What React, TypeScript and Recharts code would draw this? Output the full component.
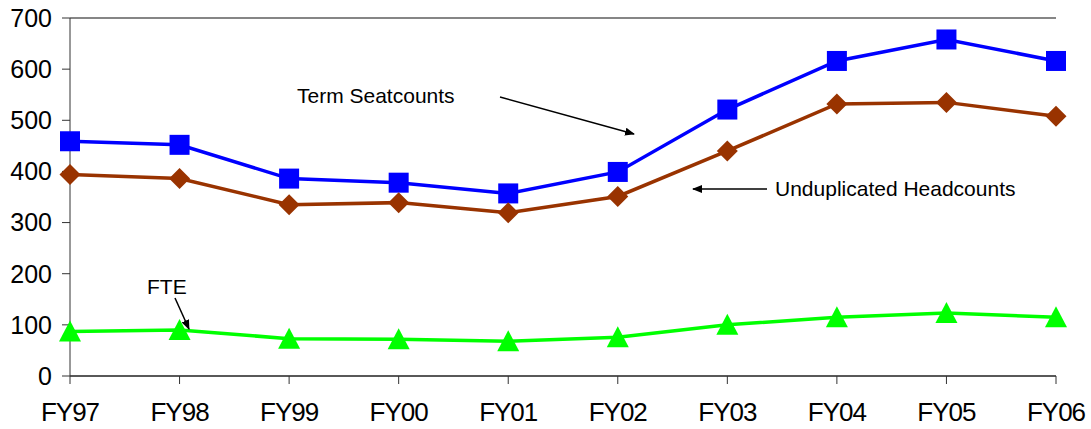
import { LineChart, Line, XAxis, YAxis, CartesianGrid, ReferenceLine } from "recharts"

// fiscal years on the x axis
const years = ["FY97", "FY98", "FY99", "FY00", "FY01", "FY02", "FY03", "FY04", "FY05", "FY06"]

// series
const seatcounts = [459, 452, 386, 378, 357, 399, 521, 616, 658, 616]
const headcounts = [394, 386, 335, 339, 319, 351, 440, 532, 535, 508]
const fte = [87, 90, 73, 72, 68, 76, 100, 115, 123, 115]

const yTicks = [0, 100, 200, 300, 400, 500, 600, 700]

const data = years.map((year, i) => ({
  year,
  seat: seatcounts[i],
  head: headcounts[i],
  fte: fte[i],
}))

const FONT = "'Liberation Sans', Arial, sans-serif"

// marker shapes
const SquareDot = (props: any) => {
  const { cx, cy, index } = props
  return <rect key={`sq-${index}`} x={cx - 10} y={cy - 10} width={20} height={20} fill="#0000ff" />
}

const DiamondDot = (props: any) => {
  const { cx, cy, index } = props
  const r = 10.5
  return (
    <polygon
      key={`di-${index}`}
      points={`${cx},${cy - r} ${cx + r},${cy} ${cx},${cy + r} ${cx - r},${cy}`}
      fill="#993300"
    />
  )
}

const TriangleDot = (props: any) => {
  const { cx, cy, index } = props
  return (
    <polygon
      key={`tr-${index}`}
      points={`${cx},${cy - 11} ${cx + 11},${cy + 10} ${cx - 11},${cy + 10}`}
      fill="#00ff00"
    />
  )
}

export default function App() {
  return (
    <div style={{ position: "absolute", left: 0, top: 0, width: 1091, height: 429, background: "#fff" }}>
      <LineChart width={1091} height={429} data={data} margin={{ top: 18, right: 35, left: 0, bottom: 0 }}>
        <CartesianGrid vertical={false} stroke="#000" strokeWidth={1} />
        <XAxis
          dataKey="year"
          height={53}
          tickSize={8}
          tickMargin={19}
          stroke="#333"
          tick={{ fill: "#000", fontSize: 26, fontFamily: FONT, letterSpacing: -1 }}
          interval={0}
        />
        <YAxis
          yAxisId="left"
          width={70}
          domain={[0, 700]}
          ticks={yTicks}
          tickSize={8}
          tickMargin={10}
          stroke="#333"
          tick={{ fill: "#000", fontSize: 25, fontFamily: FONT }}
        />
        <YAxis yAxisId="right" orientation="right" width={0} domain={[0, 700]} tick={false} tickLine={false} stroke="#888" />
        <ReferenceLine yAxisId="left" y={700} stroke="#888" strokeWidth={1.5} />
        <Line
          yAxisId="left"
          dataKey="seat"
          stroke="#0000ff"
          strokeWidth={3.5}
          dot={<SquareDot />}
          isAnimationActive={false}
        />
        <Line
          yAxisId="left"
          dataKey="head"
          stroke="#993300"
          strokeWidth={3.5}
          dot={<DiamondDot />}
          isAnimationActive={false}
        />
        <Line
          yAxisId="left"
          dataKey="fte"
          stroke="#00ff00"
          strokeWidth={3.5}
          dot={<TriangleDot />}
          isAnimationActive={false}
        />
      </LineChart>
      {/* callouts */}
      <svg width={1091} height={429} style={{ position: "absolute", left: 0, top: 0, pointerEvents: "none" }}>
        <defs>
          <marker id="arrow" markerWidth="10" markerHeight="8" refX="9" refY="4" orient="auto" markerUnits="userSpaceOnUse">
            <path d="M0,0 L10,4 L0,8 Z" fill="#000" />
          </marker>
        </defs>
        <g fontFamily={FONT} fontSize={21} fill="#000">
          <text x={297} y={103}>Term Seatcounts</text>
          <text x={775} y={196}>Unduplicated Headcounts</text>
          <text x={147} y={294}>FTE</text>
        </g>
        <line x1={500} y1={97} x2={634} y2={134} stroke="#000" strokeWidth={1.5} markerEnd="url(#arrow)" />
        <line x1={767} y1={189} x2={693} y2={189} stroke="#000" strokeWidth={1.5} markerEnd="url(#arrow)" />
        <line x1={175} y1={298} x2={189} y2={329} stroke="#000" strokeWidth={1.5} markerEnd="url(#arrow)" />
      </svg>
    </div>
  )
}
